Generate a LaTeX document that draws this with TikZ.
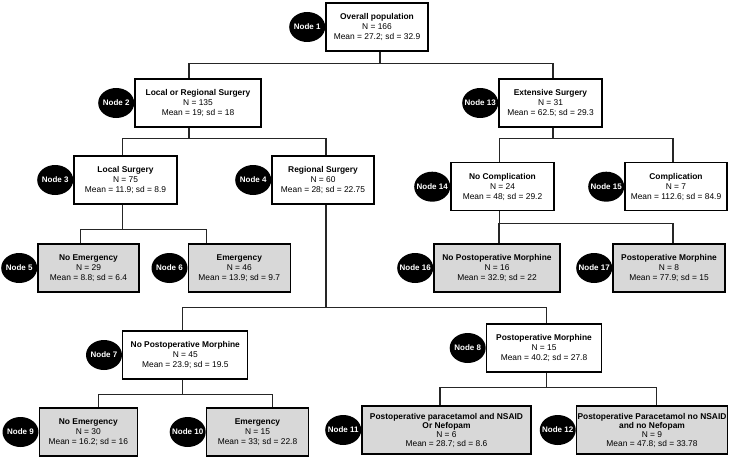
\documentclass[tikz,border=0pt]{standalone}
\usepackage{fontspec}
\setmainfont{Liberation Sans}
\usetikzlibrary{shapes.geometric}
\usetikzlibrary{positioning}
\definecolor{leafgray}{RGB}{216,216,216}
\newcommand{\tagname}[1]{\makebox[0pt]{Node #1}}

\begin{document}
\begin{tikzpicture}[x = 1pt, y = -1pt, font = \fontsize{8.4}{10}\selectfont]
	\tikzstyle{splitStyle} = [draw = black, line width = 1.2pt, fill = white, align = center, minimum height = 48pt, inner sep = 1pt]
	\tikzstyle{leafStyle} = [splitStyle, fill = leafgray]
	\tikzstyle{tagStyle} = [shape = ellipse, fill = black, text = white, minimum width = 36pt, minimum height = 30pt, inner sep = 0pt, font = \fontsize{8}{9}\selectfont\bfseries]
	\tikzstyle{linkStyle} = [draw = black!85, line width = 1.2pt]
	\useasboundingbox (0,0) rectangle (742,460);
	\node[splitStyle, minimum width = 102pt] (n1) at (377,27) {\textbf{Overall population}\\N = 166\\Mean = 27.2; sd = 32.9};
	\node[splitStyle, minimum width = 126pt] (n2) at (198,103) {\textbf{Local or Regional Surgery}\\N = 135\\Mean = 19; sd = 18};
	\node[splitStyle, minimum width = 103pt] (n13) at (550.5,103) {\textbf{Extensive Surgery}\\N = 31\\Mean = 62.5; sd = 29.3};
	\node[splitStyle, minimum width = 103pt] (n3) at (125.5,180) {\textbf{Local Surgery}\\N = 75\\Mean = 11.9; sd = 8.9};
	\node[splitStyle, minimum width = 102pt] (n4) at (323,180) {\textbf{Regional Surgery}\\N = 60\\Mean = 28; sd = 22.75};
	\node[splitStyle, minimum width = 103pt] (n14) at (502.5,186.7) {\textbf{No Complication}\\N = 24\\Mean = 48; sd = 29.2};
	\node[splitStyle, minimum width = 102pt] (n15) at (676,186.7) {\textbf{Complication}\\N = 7\\Mean = 112.6; sd = 84.9};
	\node[leafStyle, minimum width = 101pt] (n5) at (88.5,268) {\textbf{No Emergency}\\N = 29\\Mean = 8.8; sd = 6.4};
	\node[leafStyle, minimum width = 102pt] (n6) at (239.3,268) {\textbf{Emergency}\\N = 46\\Mean = 13.9; sd = 9.7};
	\node[leafStyle, minimum width = 126pt] (n16) at (497,268) {\textbf{No Postoperative Morphine}\\N = 16\\Mean = 32.9; sd = 22};
	\node[leafStyle, minimum width = 112pt] (n17) at (669,268) {\textbf{Postoperative Morphine}\\N = 8\\Mean = 77.9; sd = 15};
	\node[splitStyle, minimum width = 125pt] (n7) at (185.3,355) {\textbf{No Postoperative Morphine}\\N = 45\\Mean = 23.9; sd = 19.5};
	\node[splitStyle, minimum width = 115pt] (n8) at (544,348) {\textbf{Postoperative Morphine}\\N = 15\\Mean = 40.2; sd = 27.8};
	\node[leafStyle, minimum width = 98pt] (n9) at (88.3,432) {\textbf{No Emergency}\\N = 30\\Mean = 16.2; sd = 16};
	\node[leafStyle, minimum width = 102pt] (n10) at (257.5,432) {\textbf{Emergency}\\N = 15\\Mean = 33; sd = 22.8};
	\node[leafStyle, minimum width = 169pt, font = \fontsize{8.4}{9}\selectfont] (n11) at (446.5,430) {\textbf{Postoperative paracetamol and NSAID}\\\textbf{Or Nefopam}\\N = 6\\Mean = 28.7; sd = 8.6};
	\node[leafStyle, minimum width = 150pt, font = \fontsize{8.4}{9}\selectfont] (n12) at (652,430) {\textbf{Postoperative Paracetamol no NSAID}\\\textbf{and no Nefopam}\\N = 9\\Mean = 47.8; sd = 33.78};
	\draw[linkStyle] ([xshift = 3pt]n1.south) -- ++(0,12) -| ([xshift = -9pt]n2.north);
	\draw[linkStyle] ([xshift = 3pt]n1.south) -- ++(0,12) -| ([xshift = 2.5pt]n13.north);
	\draw[linkStyle] ([xshift = -9pt]n2.south) -- ++(0,11) -| ([xshift = -3pt]n3.north);
	\draw[linkStyle] ([xshift = -9pt]n2.south) -- ++(0,11) -| ([xshift = 3pt]n4.north);
	\draw[linkStyle] ([xshift = 2.5pt]n13.south) -- ++(0,11) -| ([xshift = -3pt]n14.north);
	\draw[linkStyle] ([xshift = 2.5pt]n13.south) -- ++(0,11) -| ([xshift = -3pt]n15.north);
	\draw[linkStyle] ([xshift = -3pt]n3.south) -- ++(0,25) -| ([xshift = -8pt]n5.north);
	\draw[linkStyle] ([xshift = -3pt]n3.south) -- ++(0,25) -| ([xshift = -32.6pt]n6.north);
	\draw[linkStyle] ([xshift = -3pt]n14.south) -- ++(0,12) -| ([xshift = 2pt]n16.north);
	\draw[linkStyle] ([xshift = -3pt]n14.south) -- ++(0,12) -| ([xshift = 4pt]n17.north);
	\draw[linkStyle] ([xshift = 3pt]n4.south) -- ++(0,103) -| ([xshift = -3pt]n7.north);
	\draw[linkStyle] ([xshift = 3pt]n4.south) -- ++(0,103) -| ([xshift = 2.7pt]n8.north);
	\draw[linkStyle] ([xshift = -3pt]n7.south) -- ++(0,15) -| ([xshift = 10pt]n9.north);
	\draw[linkStyle] ([xshift = -3pt]n7.south) -- ++(0,15) -| ([xshift = 15pt]n10.north);
	\draw[linkStyle] ([xshift = 2.7pt]n8.south) -- ++(0,15) -| ([xshift = -6.5pt]n11.north);
	\draw[linkStyle] ([xshift = 2.7pt]n8.south) -- ++(0,15) -| ([xshift = 4.7pt]n12.north);
	\node[tagStyle, left = 0pt of n1] (t1) {\tagname{1}};
	\node[tagStyle, left = 0pt of n2] (t2) {\tagname{2}};
	\node[tagStyle, left = 0pt of n3] (t3) {\tagname{3}};
	\node[tagStyle, left = 0pt of n4] (t4) {\tagname{4}};
	\node[tagStyle, left = 0pt of n5] (t5) {\tagname{5}};
	\node[tagStyle, left = 0pt of n6] (t6) {\tagname{6}};
	\node[tagStyle, left = 0pt of n7] (t7) {\tagname{7}};
	\node[tagStyle, left = 0pt of n8] (t8) {\tagname{8}};
	\node[tagStyle, left = 0pt of n9] (t9) {\tagname{9}};
	\node[tagStyle, left = 0pt of n10] (t10) {\tagname{10}};
	\node[tagStyle, left = 0pt of n11] (t11) {\tagname{11}};
	\node[tagStyle, left = 0pt of n12] (t12) {\tagname{12}};
	\node[tagStyle, left = 0pt of n13] (t13) {\tagname{13}};
	\node[tagStyle, left = 0pt of n14] (t14) {\tagname{14}};
	\node[tagStyle, left = 0pt of n15] (t15) {\tagname{15}};
	\node[tagStyle, left = 0pt of n16] (t16) {\tagname{16}};
	\node[tagStyle, left = 0pt of n17] (t17) {\tagname{17}};
\end{tikzpicture}
\end{document}
